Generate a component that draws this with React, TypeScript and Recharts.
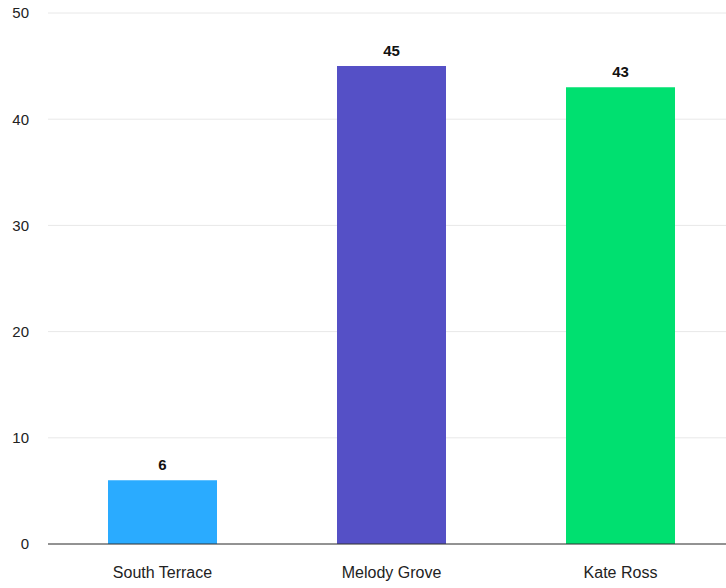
import React from 'react';
import { BarChart, Bar, XAxis, YAxis, CartesianGrid, Cell, LabelList } from 'recharts';

const categories = ['South Terrace', 'Melody Grove', 'Kate Ross'];
const values = [6, 45, 43];
const barColors = ['#2aabff', '#5550c6', '#00e070'];
const yTicks = [0, 10, 20, 30, 40, 50];

const chartData = categories.map((name, i) => ({ name, value: values[i] }));

const font = 'Liberation Sans, Arial, sans-serif';

export default function App() {
  return (
    <div style={{ position: 'absolute', left: 0, top: 0, width: 726, height: 588, background: '#fff', overflow: 'hidden' }}>
      <BarChart
        width={735}
        height={588}
        data={chartData}
        margin={{ top: 13, right: 0, left: 0, bottom: 14 }}
      >
        <CartesianGrid vertical={false} stroke="#e8e8e8" />
        <XAxis
          dataKey="name"
          height={30}
          axisLine={{ stroke: '#333' }}
          tickLine={false}
          tickMargin={17}
          tick={{ fill: '#222', fontSize: 16, fontFamily: font }}
        />
        <YAxis
          width={48}
          domain={[0, 50]}
          ticks={yTicks}
          axisLine={false}
          tickLine={false}
          tickMargin={13}
          tick={{ fill: '#222', fontSize: 15, fontFamily: font }}
        />
        <Bar dataKey="value" barSize={109} isAnimationActive={false}>
          {chartData.map((d, i) => (
            <Cell key={d.name} fill={barColors[i]} />
          ))}
          <LabelList
            dataKey="value"
            position="top"
            offset={10}
            style={{ fill: '#111', fontSize: 15, fontWeight: 'bold', fontFamily: font }}
          />
        </Bar>
      </BarChart>
    </div>
  );
}
